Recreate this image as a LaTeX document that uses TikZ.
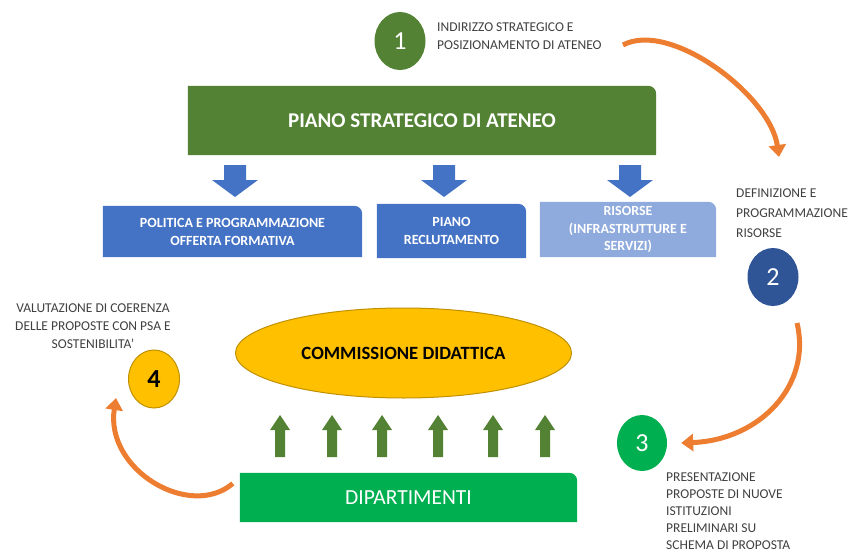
\documentclass[tikz,border=0pt]{standalone}
\usepackage{fontspec}
\setmainfont{Carlito}
\usepackage{xcolor}
\definecolor{psagreen}{HTML}{548235}
\definecolor{boxblue}{HTML}{4472C4}
\definecolor{lightblue}{HTML}{8FAADC}
\definecolor{darkblue}{HTML}{2F5597}
\definecolor{deptgreen}{HTML}{00B050}
\definecolor{gold}{HTML}{FFC000}
\definecolor{goldline}{HTML}{BF9000}
\definecolor{curve}{HTML}{ED7D31}
\definecolor{labelgrey}{HTML}{404040}
\usetikzlibrary{arrows.meta, shapes.geometric, backgrounds}

% box with only the top right corner rounded
\newcommand{\cornerfill}[2]{\fill[#2] (#1.south west) -- (#1.north west) -- ([xshift=-8pt]#1.north east) arc[start angle=90, end angle=0, radius=8pt] -- (#1.south east) -- cycle;}

\begin{document}
\begin{tikzpicture}[
    x=1pt, y=-1pt,
    box/.style={inner sep=0pt, text=white, align=center},
    bluebox/.style={box, font=\bfseries\fontsize{14}{18}\selectfont},
    numcircle/.style={ellipse, inner sep=0pt, minimum width=51pt, minimum height=58pt, text=white, font=\fontsize{26}{26}\selectfont},
    sidelabel/.style={inner sep=0pt, text=labelgrey, font=\fontsize{13.5}{18}\selectfont, align=left},
    curvearrow/.style={draw=curve, line width=5pt, -{Triangle[width=17pt, length=12pt]}}
    ]
    \useasboundingbox (0,0) rectangle (855,554);

    % top
    \node[numcircle, fill=psagreen] (n1) at (400,41) {1};
    \node[sidelabel, anchor=west] (ind) at (437,36) {INDIRIZZO STRATEGICO E\\POSIZIONAMENTO DI ATENEO};
    \node[box, minimum width=468pt, minimum height=69pt, font=\bfseries\fontsize{21}{21}\selectfont] (psa) at (422,120.5) {PIANO STRATEGICO DI ATENEO};

    \foreach \x in {235,444,630}
        \fill[boxblue] (\x-11,165) -- (\x+11,165) -- (\x+11,180) -- (\x+23,180) -- (\x,197) -- (\x-23,180) -- (\x-11,180) -- cycle;

    \node[bluebox, minimum width=259pt, minimum height=51pt] (pof) at (232.5,231.5) {POLITICA E PROGRAMMAZIONE\\OFFERTA FORMATIVA};
    \node[bluebox, minimum width=149pt, minimum height=54pt] (prec) at (451.5,231) {PIANO\\RECLUTAMENTO};
    \node[bluebox, minimum width=176pt, minimum height=55pt, font=\bfseries\fontsize{14}{17.5}\selectfont] (ris) at (628,229.5) {RISORSE\\(INFRASTRUTTURE E\\SERVIZI)};

    % right side
    \node[sidelabel, anchor=west, font=\fontsize{13.5}{20}\selectfont] (defi) at (736,213) {DEFINIZIONE E\\PROGRAMMAZIONE\\RISORSE};
    \node[numcircle, fill=darkblue] (n2) at (773,277) {2};
    \node[numcircle, fill=deptgreen, minimum width=50pt, minimum height=56pt] (n3) at (642,443) {3};
    \node[sidelabel, anchor=west, font=\fontsize{13.5}{17}\selectfont] (pres) at (666,511) {PRESENTAZIONE\\PROPOSTE DI NUOVE\\ISTITUZIONI\\PRELIMINARI SU\\SCHEMA DI PROPOSTA};

    % bottom
    \node[ellipse, fill=gold, draw=goldline, line width=1pt, minimum width=336pt, minimum height=90pt, font=\bfseries\fontsize{18.7}{18.7}\selectfont] (cd) at (403.5,353) {COMMISSIONE DIDATTICA};
    \foreach \x in {280,332,382,438,493,545}
        \fill[psagreen] (\x-5,457) -- (\x-5,430) -- (\x-10,430) -- (\x,415) -- (\x+10,430) -- (\x+5,430) -- (\x+5,457) -- cycle;
    \node[box, minimum width=337pt, minimum height=49pt, font=\fontsize{21.5}{21.5}\selectfont] (dip) at (408.5,497.5) {DIPARTIMENTI};

    % left side
    \node[numcircle, fill=gold, draw=goldline, line width=1pt, text=black, font=\bfseries\fontsize{26}{26}\selectfont] (n4) at (154,379) {4};
    \node[sidelabel, align=center, font=\fontsize{13.5}{18}\selectfont] (val) at (93,326) {VALUTAZIONE DI COERENZA\\DELLE PROPOSTE CON PSA E\\SOSTENIBILITA'};

    \begin{scope}[on background layer]
        \cornerfill{psa}{psagreen}
        \cornerfill{pof}{boxblue}
        \cornerfill{prec}{boxblue}
        \cornerfill{ris}{lightblue}
        \cornerfill{dip}{deptgreen}
    \end{scope}

    % cycle arrows
    \coordinate (a1) at (623,45);
    \coordinate (a2) at (779,157);
    \coordinate (b1) at (797,323);
    \coordinate (c2) at (116,398);
    \draw[curvearrow] (a1) .. controls (670,20) and (770,95) .. (a2);
    \draw[curvearrow] (b1) .. controls (812,385) and (760,440) .. ([xshift=14pt]n3.east);
    \draw[curvearrow] ([shift={(-7,-14)}]dip.west) .. controls (190,520) and (105,470) .. (c2);
\end{tikzpicture}
\end{document}
